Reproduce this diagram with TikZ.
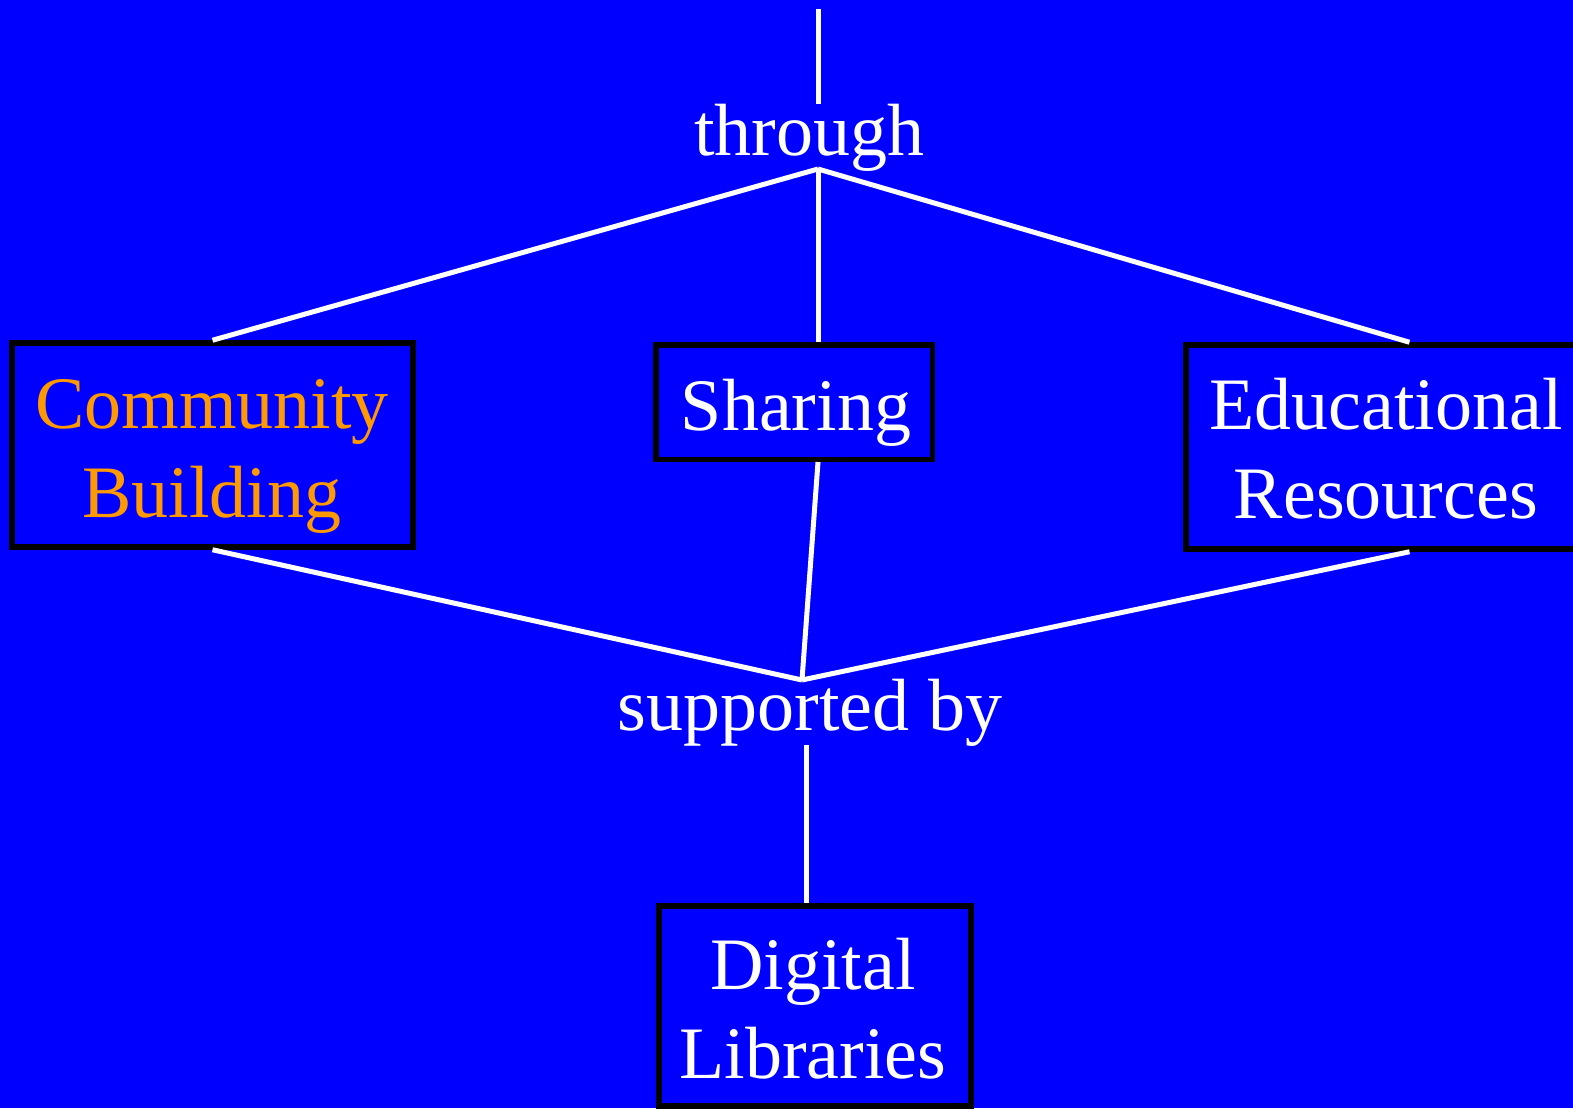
\documentclass[tikz,border=0pt]{standalone}
\usepackage{fontspec}
\setmainfont{Liberation Serif}
\usetikzlibrary{calc}
\definecolor{bgblue}{RGB}{0,0,255}
\definecolor{txtorange}{RGB}{255,153,0}
\tikzset{
  boxnode/.style={draw=black, line width=5.5pt, fill=bgblue, rectangle, inner sep=0pt},
  lbl/.style={text=white, inner sep=0pt, align=center, anchor=base, font=\fontsize{74}{89}\selectfont},
  link/.style={draw=white, line width=5pt}
}
\begin{document}
\begin{tikzpicture}[x=1pt,y=-1pt]
\fill[bgblue] (0,0) rectangle (1573,1108);
\useasboundingbox (0,0) rectangle (1573,1108);
% boxes
\node[boxnode, minimum width=401pt, minimum height=204pt] (cb) at (212.5,445) {};
\node[boxnode, minimum width=276.5pt, minimum height=114.5pt] (sh) at (794,402) {};
\node[boxnode, minimum width=401pt, minimum height=204pt] (ed) at (1386.5,447) {};
\node[boxnode, minimum width=312pt, minimum height=200pt] (dl) at (815,1006) {};
% texts (anchor base = baseline of the last line)
\node[lbl, text=txtorange] (cbt) at (212,517) {Community\\Building};
\node[lbl] (sht) at (796,430) {Sharing};
\node[lbl] (edt) at (1386,518) {Educational\\Resources};
\node[lbl] (dlt) at (813,1078) {Digital\\Libraries};
\node[lbl] (th) at (809.5,155) {through};
\node[lbl] (sb) at (810,730) {supported by};
% junctions
\coordinate (top) at (818,9);
\coordinate (thtop) at (818,104);
\coordinate (thj) at (818,169);
\coordinate (sbj) at (802,680);
\coordinate (sbbot) at (806,745);
% connectors
\draw[link] (top) -- (thtop);
\draw[link] (thj) -- (cb.north);
\draw[link] (thj) -- ($(sh.north)+(24,0)$);
\draw[link] (thj) -- ($(ed.north)+(23,0)$);
\draw[link] (cb.south) -- (sbj);
\draw[link] ($(sh.south)+(24,0)$) -- (sbj);
\draw[link] ($(ed.south)+(23,0)$) -- (sbj);
\draw[link] (sbbot) -- ($(dl.north)+(-9,0)$);
\end{tikzpicture}
\end{document}
